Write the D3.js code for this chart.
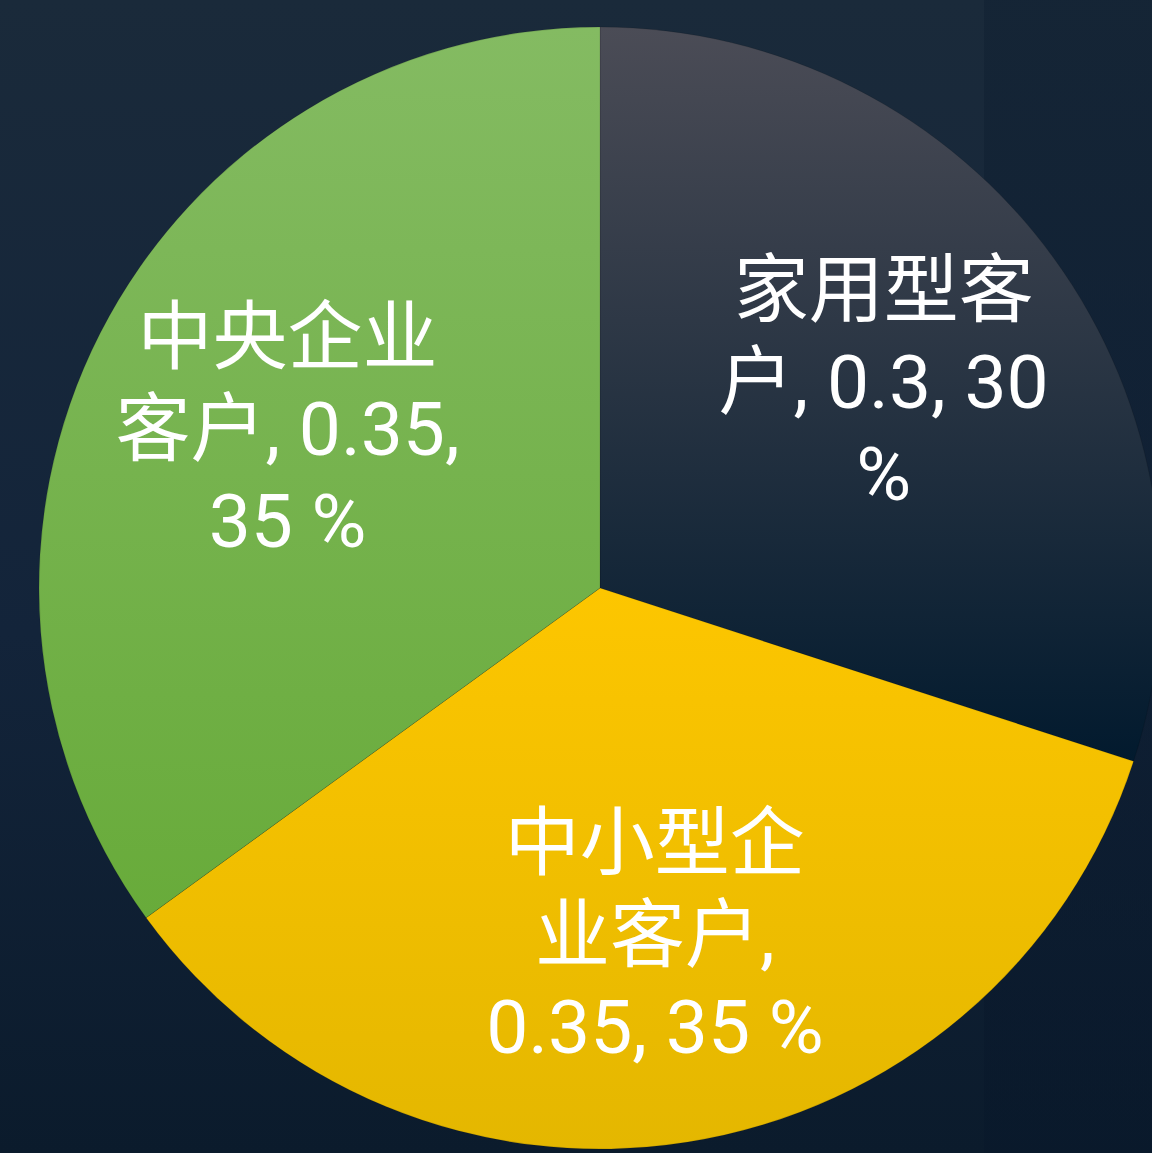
<!DOCTYPE html>
<html>
<head>
<meta charset="utf-8">
<script src="https://cdn.jsdelivr.net/npm/d3@7/dist/d3.min.js"></script>
<style>
  html, body { margin: 0; padding: 0; background: #132334; overflow: hidden; }
  svg { display: block; }
</style>
</head>
<body>
<svg id="chart" width="1152" height="1153"></svg>
<script>
// ---- data ----
const categories = ["家用型客户", "中小型企业客户", "中央企业客户"];
const values = [0.3, 0.35, 0.35];
const percents = [30, 35, 35];
const sliceColorsTop = ["#4b4c56", "#fdc600", "#84bb62"];
const sliceColorsBottom = ["#021a2e", "#e4b700", "#68ab3a"];

const W = 1152, H = 1153;
const cx = 600, cy = 588, R = 561;
const svg = d3.select("#chart");
const defs = svg.append("defs");

// background
const bg = defs.append("linearGradient").attr("id", "bg").attr("x1", 0).attr("y1", 0).attr("x2", 0).attr("y2", 1);
bg.append("stop").attr("offset", "0%").attr("stop-color", "#1a2a3a");
bg.append("stop").attr("offset", "55%").attr("stop-color", "#13243a");
bg.append("stop").attr("offset", "100%").attr("stop-color", "#0b1b2c");
svg.append("rect").attr("width", W).attr("height", H).attr("fill", "url(#bg)");
// darker band on the right (tower silhouette in the photo)
const band = defs.append("linearGradient").attr("id", "band").attr("x1", 0).attr("y1", 0).attr("x2", 0).attr("y2", 1);
band.append("stop").attr("offset", "0%").attr("stop-color", "#0d1d2f").attr("stop-opacity", 0.4);
band.append("stop").attr("offset", "100%").attr("stop-color", "#08172a").attr("stop-opacity", 0.5);
svg.append("rect").attr("x", 984).attr("y", 0).attr("width", W - 984).attr("height", H).attr("fill", "url(#band)");

// slice gradients
categories.forEach((c, i) => {
  const g = defs.append("linearGradient").attr("id", "sg" + i)
    .attr("x1", 0).attr("y1", 0).attr("x2", 0).attr("y2", 1);
  g.append("stop").attr("offset", "0%").attr("stop-color", sliceColorsTop[i]);
  g.append("stop").attr("offset", "100%").attr("stop-color", sliceColorsBottom[i]);
});

const data = categories.map((c, i) => ({ name: c, value: values[i], pct: percents[i], i }));
const pie = d3.pie().value(d => d.value).sort(null);
const arcs = pie(data);
const arc = d3.arc().innerRadius(0).outerRadius(R);
const labelArc = d3.arc().innerRadius(R * 0.625).outerRadius(R * 0.625);

const g = svg.append("g").attr("transform", `translate(${cx},${cy})`);
g.selectAll("path.slice").data(arcs).join("path")
  .attr("class", "slice")
  .attr("d", arc)
  .attr("fill", d => `url(#sg${d.data.i})`)
  .attr("stroke", "rgba(0,0,0,0.12)")
  .attr("stroke-width", 1);

// labels with wrapping
const fontSize = 75, lineH = 92, maxW = 352;
const fontFamily = "Roboto, 'Noto Sans CJK SC', sans-serif";
const measurer = svg.append("text").attr("font-size", fontSize).attr("font-family", fontFamily).attr("visibility", "hidden");
function textW(s) { measurer.text(s); return measurer.node().getComputedTextLength(); }
function tokenize(s) {
  const toks = [];
  let cur = "";
  for (const ch of s) {
    if (/[\u4e00-\u9fff]/.test(ch)) { if (cur) toks.push(cur); toks.push(ch); cur = ""; }
    else if (ch === " ") { cur += ch; toks.push(cur); cur = ""; }
    else { cur += ch; }
  }
  if (cur) toks.push(cur);
  return toks;
}
function wrap(s) {
  const toks = tokenize(s);
  const lines = [];
  let line = "";
  for (const t of toks) {
    const test = line + t;
    if (line && textW(test.trimEnd()) > maxW) { lines.push(line.trimEnd()); line = t; }
    else line = test;
  }
  if (line) lines.push(line.trimEnd());
  return lines;
}

arcs.forEach(a => {
  const [x, y] = labelArc.centroid(a);
  const str = `${a.data.name}, ${a.data.value}, ${a.data.pct} %`;
  const lines = wrap(str);
  const t = g.append("text")
    .attr("text-anchor", "middle")
    .attr("font-size", fontSize)
    .attr("font-family", fontFamily)
    .attr("fill", "#ffffff");
  const y0 = y - (lines.length - 1) * lineH / 2;
  lines.forEach((ln, k) => {
    t.append("tspan").attr("x", x).attr("y", y0 + k * lineH).attr("dy", "0.35em").text(ln);
  });
});
measurer.remove();
</script>
</body>
</html>
